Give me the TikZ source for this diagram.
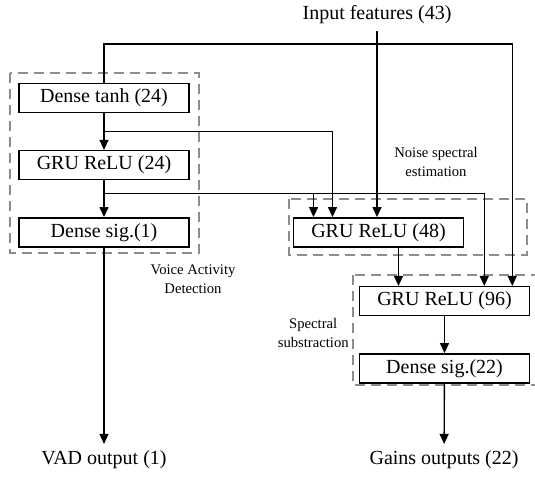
\documentclass[tikz,border=0pt]{standalone}
\usepackage{fontspec}
\setmainfont{Liberation Serif}
\usetikzlibrary{arrows.meta,positioning,calc}
\tikzset{
  layerbox/.style={rectangle,draw=black,line width=0.9pt,minimum width=102pt,minimum height=17.4pt,inner sep=1pt,font=\fontsize{12}{14}\selectfont},
  iotext/.style={inner sep=4pt,font=\fontsize{12}{14}\selectfont},
  grouplabel/.style={align=center,inner sep=0pt,font=\fontsize{8.8}{11.4}\selectfont},
  groupbox/.style={draw=black!45,line width=1.2pt,dash pattern=on 6pt off 3.6pt},
  link/.style={line width=0.8pt},
  arr/.style={link,-{Triangle[length=6pt,width=5.4pt]}}
}

\begin{document}
\begin{tikzpicture}[x=0.6pt,y=-0.6pt,node distance=22pt and 61.8pt]
  \useasboundingbox (0,0) rectangle (535,477);

  % dashed groups
  \draw[groupbox] (10,73) rectangle (199,253);
  \draw[groupbox] (289,199) rectangle (527,255);
  \draw[groupbox] (353,275) rectangle (545,385);

  \node[iotext] (feat) at (377,15) {Input features (43)};
  \node[layerbox] (tanh) at (104,98) {Dense tanh (24)};
  \node[layerbox,below=of tanh] (gru24) {GRU ReLU (24)};
  \node[layerbox,below=of gru24] (sig1) {Dense sig.(1)};
  \node[layerbox,right=of sig1] (gru48) {GRU ReLU (48)};
  \node[layerbox,below=23pt of gru48,xshift=39.6pt] (gru96) {GRU ReLU (96)};
  \node[layerbox,below=of gru96] (sig22) {Dense sig.(22)};
  \node[iotext] (vad) at (104,460) {VAD output (1)};
  \node[iotext] (gains) at (444,460) {Gains outputs (22)};

  \node[grouplabel] (vadlbl) at (193,279) {Voice Activity\\Detection};
  \node[grouplabel] (noiselbl) at (436,162) {Noise spectral\\estimation};
  \node[grouplabel,anchor=east] (speclbl) at (349,333) {Spectral\\substraction};

  % connectors
  \coordinate (split) at (377,44);
  \coordinate (tanhsplit) at ($(tanh.south)!0.5!(gru24.north)$);
  \coordinate (grusplit) at ($(gru24.south)!0.35!(sig1.north)$);

  \draw[arr] (feat.south) -- (feat.south |- gru48.north);
  \draw[link] (split) -| (tanh.north);
  \draw[arr] (split) -| ([xshift=-10.8pt]gru96.north east);
  \draw[arr] (tanh) -- (gru24);
  \draw[arr] (tanhsplit) -| ([xshift=-27.6pt]gru48.north);
  \draw[arr] (gru24) -- (sig1);
  \draw[arr] (grusplit) -| ([xshift=-39pt]gru48.north);
  \draw[arr] (grusplit) -| ([xshift=-27.6pt]gru96.north east);
  \draw[arr] (sig1) -- (vad);
  \draw[arr] ([xshift=12pt]gru48.south) -- ([xshift=12pt]gru48.south |- gru96.north);
  \draw[arr] (gru96) -- (sig22);
  \draw[arr] (sig22) -- (gains);
\end{tikzpicture}
\end{document}
